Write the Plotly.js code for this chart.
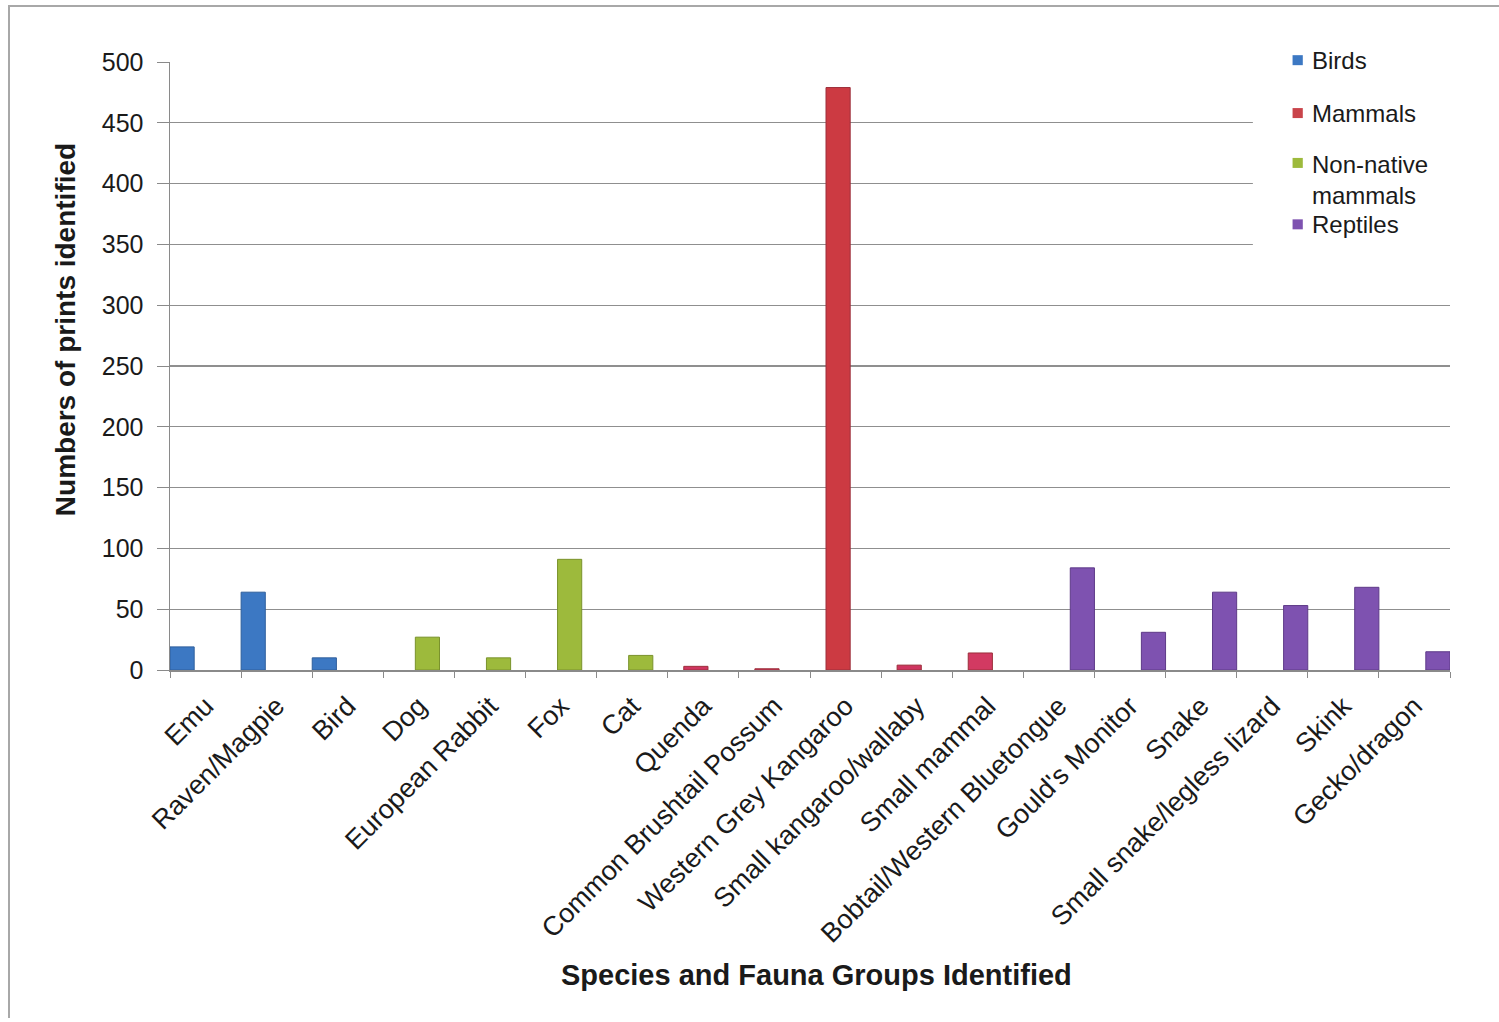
<!DOCTYPE html>
<html>
<head>
<meta charset="utf-8">
<script src="https://cdn.plot.ly/plotly-3.0.1.min.js"></script>
<style>
html,body{margin:0;padding:0;background:#fff;}
#wrap{position:relative;width:1499px;height:1022px;}
#chart{width:1499px;height:1022px;}
#frame{position:absolute;left:8px;top:5px;width:1491px;height:1013px;border-left:2px solid #a8a8a8;border-top:2px solid #a8a8a8;box-sizing:border-box;pointer-events:none;}
</style>
</head>
<body>
<div id="wrap"><div id="chart"></div><div id="frame"></div></div>
<script>
const categories = ["Emu","Raven/Magpie","Bird","Dog","European Rabbit","Fox","Cat","Quenda","Common Brushtail Possum","Western Grey Kangaroo","Small kangaroo/wallaby","Small mammal","Bobtail/Western Bluetongue","Gould's Monitor","Snake","Small snake/legless lizard","Skink","Gecko/dragon"];

const birdsX = ["Emu","Raven/Magpie","Bird"];
const birdsY = [19, 64, 10];

const mammalsX = ["Quenda","Common Brushtail Possum","Western Grey Kangaroo","Small kangaroo/wallaby","Small mammal"];
const mammalsY = [3, 1, 479, 4, 14];
const mammalsColors = ["#cf3560","#cf3560","#cc3a42","#cf3560","#d23a62"];

const nonNativeX = ["Dog","European Rabbit","Fox","Cat"];
const nonNativeY = [27, 10, 91, 12];

const reptilesX = ["Bobtail/Western Bluetongue","Gould's Monitor","Snake","Small snake/legless lizard","Skink","Gecko/dragon"];
const reptilesY = [84, 31, 64, 53, 68, 15];

const seriesNames = ["Birds","Mammals","Non-native<br>mammals","Reptiles"];
const seriesColors = ["#3c78c3","#c9444a","#9dba3c","#7e52b0"];

const FONT = "Liberation Sans, Arial, sans-serif";
const W = 0.34;
const traces = [
  {x: birdsX, y: birdsY, color: seriesColors[0], line: "#2f5f9c", off: -0.5},
  {x: mammalsX, y: mammalsY, color: mammalsColors, line: "#9c2f3a", off: -0.275},
  {x: nonNativeX, y: nonNativeY, color: seriesColors[2], line: "#7a922c", off: -0.05},
  {x: reptilesX, y: reptilesY, color: seriesColors[3], line: "#5e3a88", off: 0.16}
].map((t, i) => ({
  type: "bar", x: t.x, y: t.y, name: seriesNames[i],
  width: W, offset: t.off,
  marker: {color: t.color, line: {color: t.line, width: 1}},
  showlegend: false, hoverinfo: "x+y"
}));

// manual legend positions (paper units)
const legendPY = [1.003, 0.916, 0.857, 0.733];
const annotations = [];
const shapes = [
  {type: "rect", xref: "paper", yref: "paper", x0: 0.846, x1: 1.01, y0: 0.691, y1: 1.03,
   fillcolor: "#ffffff", line: {width: 0}, layer: "above"}
];
seriesNames.forEach((n, i) => {
  const twoLine = n.indexOf("<br>") >= 0;
  annotations.push({
    xref: "paper", yref: "paper", x: 0.891, y: legendPY[i], xanchor: "left",
    yanchor: twoLine ? "top" : "middle",
    text: n, showarrow: false, align: "left",
    font: {family: FONT, size: 24, color: "#1a1a1a"}
  });
  const cy = twoLine ? 0.834 : legendPY[i];
  shapes.push({
    type: "rect", xref: "paper", yref: "paper",
    x0: 0.877, x1: 0.885, y0: cy - 5/608, y1: cy + 5/608,
    fillcolor: seriesColors[i], line: {width: 0}, layer: "above"
  });
});

// axis titles as annotations
annotations.push({
  xref: "paper", yref: "paper", x: -0.082, y: 0.559, textangle: -90,
  xanchor: "center", yanchor: "middle", showarrow: false,
  text: "<b>Numbers of prints identified</b>",
  font: {family: FONT, size: 28, color: "#1a1a1a"}
});
annotations.push({
  xref: "paper", yref: "paper", x: 0.505, y: -0.502,
  xanchor: "center", yanchor: "middle", showarrow: false,
  text: "<b>Species and Fauna Groups Identified</b>",
  font: {family: FONT, size: 29, color: "#1a1a1a"}
});

const layout = {
  width: 1499, height: 1022,
  margin: {l: 170, r: 49, t: 62, b: 352},
  paper_bgcolor: "#ffffff", plot_bgcolor: "#ffffff",
  bargap: 0, barmode: "overlay",
  font: {family: FONT, size: 21, color: "#1a1a1a"},
  xaxis: {
    type: "category", categoryorder: "array", categoryarray: categories,
    range: [-0.5, 17.5],
    tickangle: -45, tickson: "boundaries", ticks: "outside", ticklen: 6, tickcolor: "#8a8a8a",
    ticklabelstandoff: 8,
    showline: true, linecolor: "#8a8a8a", linewidth: 1.5, showgrid: false,
    tickfont: {size: 27, color: "#1a1a1a"},
    automargin: false
  },
  yaxis: {
    range: [0, 500], dtick: 50, tick0: 0,
    ticks: "outside", ticklen: 12, tickcolor: "#8a8a8a", ticklabelstandoff: 8,
    showline: true, linecolor: "#8a8a8a", linewidth: 1.5,
    showgrid: true, gridcolor: "#8f8f8f", gridwidth: 1.2, zeroline: false,
    tickfont: {size: 25, color: "#1a1a1a"},
    automargin: false
  },
  shapes: shapes,
  annotations: annotations
};

Plotly.newPlot("chart", traces, layout, {staticPlot: true});
</script>
</body>
</html>
